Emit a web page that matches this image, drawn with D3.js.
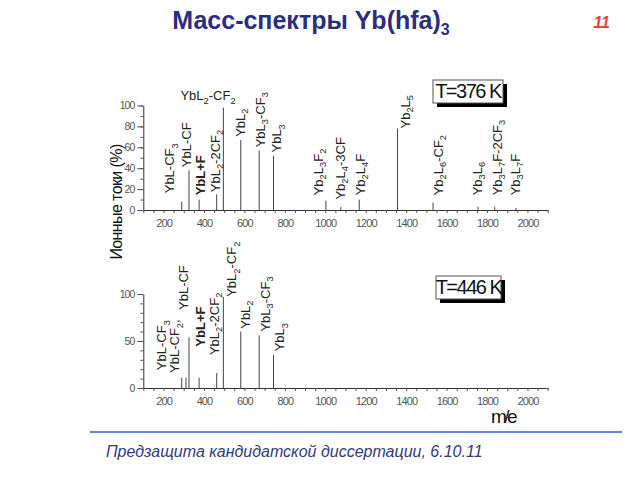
<!DOCTYPE html>
<html>
<head>
<meta charset="utf-8">
<script src="https://cdn.jsdelivr.net/npm/d3@7"></script>
<style>
  body { margin: 0; background: white; }
  svg { font-family: "Liberation Sans", Arial, sans-serif; }
</style>
</head>
<body>
<div class="slide"></div>
<script>
// m/z and relative intensity (%) of the peaks
var topM = [290, 326, 376, 463, 496, 582, 673, 744, 1003, 1077, 1168, 1357, 1533, 1755, 1838, 1943];
var topI = [8, 38, 10, 15, 98, 67, 57, 52, 9, 3, 10, 78, 7, 3, 3, 2];
var botM = [290, 311, 326, 376, 463, 496, 582, 673, 744];
var botI = [11, 11, 54, 11, 16, 97, 60, 56, 35];

// peak labels, anchored at (m/z, %) in the plot's own units
var topLabels = ["YbL-CF_3", "YbL-CF", "YbL+F", "YbL_2-2CF_2", "YbL_2", "YbL_3-CF_3", "YbL_3",
                 "Yb_2L_3F_2", "Yb_2L_4-3CF", "Yb_2L_4F", "Yb_2L_5", "Yb_2L_6-CF_2",
                 "Yb_3L_6", "Yb_3L_7F-2CF_3", "Yb_3L_7F"];
var topLabelM = [254, 337, 403, 477, 601, 700, 783, 987, 1096, 1195, 1418, 1581, 1774, 1873, 1962];
var topLabelI = [16, 41, 14, 17, 70, 60, 55, 14, 10, 14, 78, 14, 14, 14, 14];
var topHeadLabel = "YbL_2-CF_2", topHeadM = 420, topHeadI = 105;

var botLabels = ["YbL-CF_3", "YbL-CF_2,", "YbL-CF", "YbL+F", "YbL_2-2CF_2", "YbL_2-CF_2",
                 "YbL_2", "YbL_3-CF_3", "YbL_3"];
var botLabelM = [213, 279, 322, 403, 472, 560, 626, 725, 796];
var botLabelI = [19, 16, 83, 44, 35, 97, 63, 60, 39];

var xTicks = [200, 400, 600, 800, 1000, 1200, 1400, 1600, 1800, 2000];
var topYTicks = [0, 20, 40, 60, 80, 100];
var botYTicks = [0, 50, 100];

var svg = d3.select(".slide")
            .append("svg")
            .attr("width", 640)
            .attr("height", 480)
            .style("background-color", "white");

// write "YbL_2" style strings, "_d" = subscript digit
function rich(sel, str, fs) {
  var parts = str.split(/(_\d)/).filter(function(s) { return s.length; });
  var sub = false;
  parts.forEach(function(p) {
    if (p[0] === "_") {
      sel.append("tspan").attr("font-size", fs * 0.72).attr("dy", sub ? 0 : fs * 0.28).text(p.slice(1));
      sub = true;
    } else {
      sel.append("tspan").attr("dy", sub ? -fs * 0.28 : 0).text(p);
      sub = false;
    }
  });
}

var x = d3.scaleLinear().domain([100, 2100]).range([143.3, 547.7]);
var yTop = d3.scaleLinear().domain([0, 100]).range([210, 105.5]);
var yBot = d3.scaleLinear().domain([0, 100]).range([388, 294]);

function panel(y, yTicks, ms, is, labels, lm, li) {
  var g = svg.append("g");

  // minor + major x ticks
  g.append("g")
   .attr("transform", "translate(0," + y(0) + ")")
   .call(d3.axisBottom(x).tickValues(d3.range(100, 2101, 50)).tickSize(3).tickSizeOuter(0).tickFormat(""))
   .call(function(a) { a.select(".domain").attr("stroke", "#333"); a.selectAll("line").attr("stroke", "#555"); });
  g.append("g")
   .attr("transform", "translate(0," + y(0) + ")")
   .call(d3.axisBottom(x).tickValues(xTicks).tickSize(0).tickPadding(9).tickFormat(d3.format("d")))
   .call(function(a) {
     a.select(".domain").remove();
     a.selectAll("text").attr("font-size", 11).attr("fill", "#555").style("letter-spacing", "-0.9px");
   });

  // y axis
  g.append("g")
   .attr("transform", "translate(" + x(100) + ",0)")
   .call(d3.axisLeft(y).tickValues(d3.range(0, 101, 10)).tickSize(3).tickSizeOuter(0).tickFormat(""))
   .call(function(a) { a.select(".domain").attr("stroke", "#333"); a.selectAll("line").attr("stroke", "#555"); });
  g.append("g")
   .attr("transform", "translate(" + x(100) + ",0)")
   .call(d3.axisLeft(y).tickValues(yTicks).tickSize(6).tickPadding(3))
   .call(function(a) {
     a.select(".domain").remove();
     a.selectAll("line").attr("stroke", "#555");
     a.selectAll("text").attr("font-size", 10.5).attr("fill", "#555").style("letter-spacing", "-1px");
   });

  // peaks
  g.selectAll(".peak")
   .data(ms)
   .enter().append("line")
   .attr("x1", function(d) { return x(d); })
   .attr("x2", function(d) { return x(d); })
   .attr("y1", y(0))
   .attr("y2", function(d, i) { return y(is[i]); })
   .attr("stroke", "#444")
   .attr("stroke-width", 1);

  // rotated peak labels
  labels.forEach(function(t, i) {
    var tx = x(lm[i]), ty = y(li[i]);
    var el = g.append("text")
              .attr("transform", "translate(" + tx + "," + ty + ") rotate(-90)")
              .attr("font-size", 13)
              .attr("fill", "#222")
              .attr("font-weight", t === "YbL+F" ? "bold" : "normal");
    rich(el, t, 13);
  });
  return g;
}

panel(yTop, topYTicks, topM, topI, topLabels, topLabelM, topLabelI);
panel(yBot, botYTicks, botM, botI, botLabels, botLabelM, botLabelI);

var head = svg.append("text")
              .attr("x", x(topHeadM))
              .attr("y", yTop(topHeadI))
              .attr("text-anchor", "middle")
              .attr("font-size", 13)
              .attr("fill", "#222");
rich(head, topHeadLabel, 13);

// temperature boxes
function tempBox(bx, by, w, h, label) {
  svg.append("rect").attr("x", bx + 4).attr("y", by + 4).attr("width", w).attr("height", h).attr("fill", "black");
  svg.append("rect").attr("x", bx).attr("y", by).attr("width", w).attr("height", h)
     .attr("fill", "white").attr("stroke", "#555").attr("stroke-width", 1);
  svg.append("text").attr("x", bx + w / 2).attr("y", by + h - 5)
     .attr("text-anchor", "middle").attr("font-size", 20)
     .style("letter-spacing", "-1.5px").attr("fill", "#111").text(label);
}
tempBox(433, 80, 70, 23, "T=376 K");
tempBox(436, 276, 65, 23, "T=446 K");

// y title
svg.append("text")
   .attr("transform", "translate(122,202) rotate(-90)")
   .attr("text-anchor", "middle")
   .attr("font-size", 16)
   .style("letter-spacing", "-0.6px")
   .attr("fill", "#111")
   .text("Ионные токи (%)");

// x title
svg.append("text")
   .attr("x", 491)
   .attr("y", 423)
   .attr("font-size", 19)
   .style("letter-spacing", "-2.5px")
   .attr("fill", "#111")
   .text("m/e");

// slide title
var title = svg.append("text")
               .attr("x", 311)
               .attr("y", 29)
               .attr("text-anchor", "middle")
               .attr("font-size", 25)
               .attr("font-weight", "bold")
               .attr("fill", "#2b2e7e");
title.append("tspan").text("Масс-спектры Yb(hfa)");
title.append("tspan").attr("font-size", 16).attr("dy", 6).text("3");

svg.append("text")
   .attr("x", 610)
   .attr("y", 28)
   .attr("text-anchor", "end")
   .attr("font-size", 16)
   .attr("font-weight", "bold")
   .attr("font-style", "italic")
   .attr("fill", "#e0463e")
   .text("11");

// footer
svg.append("line")
   .attr("x1", 90).attr("x2", 622)
   .attr("y1", 432).attr("y2", 432)
   .attr("stroke", "#6688d8")
   .attr("stroke-width", 2);
svg.append("text")
   .attr("x", 106)
   .attr("y", 457)
   .attr("font-size", 16)
   .attr("font-style", "italic")
   .attr("fill", "#33397a")
   .text("Предзащита кандидатской диссертации, 6.10.11");
</script>
</body>
</html>
